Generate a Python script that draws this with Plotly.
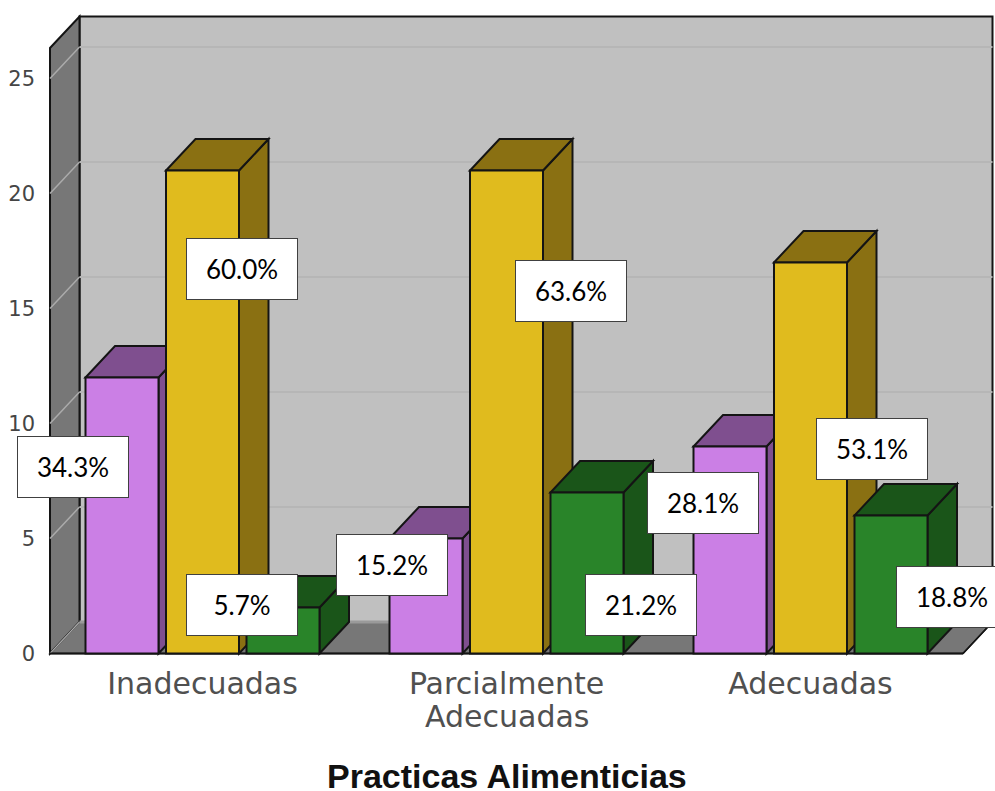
import plotly.graph_objects as go

categories = ["Inadecuadas", "Parcialmente", "Adecuadas"]
second_line = "Adecuadas"
purple_values = [12, 5, 9]
yellow_values = [21, 21, 17]
green_values = [2, 7, 6]
y_ticks = [0, 5, 10, 15, 20, 25]
percent_labels = ["34.3%", "60.0%", "5.7%", "15.2%", "63.6%", "21.2%", "28.1%", "53.1%", "18.8%"]
x_title = "Practicas Alimenticias"

# layout (pixels of the 995x791 page)
W, H = 995, 791
PX_X, PX_Y = 304.0, 23.0
X0_PX, Y0_PX = 202.5, 653.5
L, R, T, B = 44, 995, 12, 660
label_centres = [(73, 467), (242, 269), (242, 605), (392, 565), (571, 291),
                 (641, 605), (703, 503), (872, 449), (952, 597)]


def xd(px):
    return (px - X0_PX) / PX_X


def yd(py):
    return (Y0_PX - py) / PX_Y


DX, DY = 29.5 / PX_X, 31.5 / PX_Y
BAR_W, STEP = 73 / PX_X, 80.5 / PX_X
EDGE = "#141414"
WALL_SIDE, WALL_BACK = "#777777", "#C0C0C0"

series = [
    (purple_values, -STEP, "#CB7FE5", "#7F4F8F"),
    (yellow_values, 0.0, "#E0BB1E", "#8A7012"),
    (green_values, STEP, "#298429", "#1A5519"),
]


def poly(points, fill, lw=2.0, line=EDGE):
    path = "M " + " L ".join(f"{x:.5f},{y:.5f}" for x, y in points) + " Z"
    return dict(type="path", path=path, xref="x", yref="y", layer="below",
                fillcolor=fill, line=dict(color=line, width=lw))


def seg(x1, y1, x2, y2, color, lw=1.5):
    return dict(type="line", x0=x1, y0=y1, x1=x2, y1=y2, xref="x", yref="y",
                layer="below", line=dict(color=color, width=lw))


wl, wr = xd(50), xd(963)
top = yd(48)
shapes = [
    poly([(wl + DX, DY), (wl + DX, top + DY), (wr + DX, top + DY), (wr + DX, DY)], WALL_BACK, 2),
    poly([(wl, 0), (wl, top), (wl + DX, top + DY), (wl + DX, DY)], WALL_SIDE, 2),
]
for t in y_ticks[1:]:
    shapes.append(seg(wl + DX, t + DY, wr + DX, t + DY, "#B6B6B6", 2))
    shapes.append(seg(wl, t, wl + DX, t + DY, "#ABABAB", 1.5))
shapes.append(poly([(wl, 0), (wl + DX, DY), (wr + DX, DY), (wr, 0)], WALL_SIDE, 1.5))
shapes.append(seg(wl + DX, DY, wr + DX, DY, "#9A9A9A", 3))
shapes.append(seg(wl, 0, wl + DX, DY, "#ABABAB", 1.2))
shapes.append(seg(wl, 0, wr, 0, EDGE, 2))
shapes.append(seg(wr, 0, wr + DX, DY, EDGE, 1.5))

fig = go.Figure()
for values, offset, front, dark in series:
    xs = [i + offset for i in range(len(values))]
    fig.add_trace(go.Bar(x=xs, y=values, width=BAR_W, marker=dict(color=front, line=dict(color=EDGE, width=2)),
                         hoverinfo="skip", showlegend=False))
    for x, v in zip(xs, values):
        a, b = x - BAR_W / 2, x + BAR_W / 2
        shapes.append(poly([(b, 0), (b, v), (b + DX, v + DY), (b + DX, DY)], dark))
        shapes.append(poly([(a, v), (a + DX, v + DY), (b + DX, v + DY), (b, v)], dark))

annotations = []
for text, (cx, cy) in zip(percent_labels, label_centres):
    annotations.append(dict(
        x=(cx - L) / (R - L), y=(B - cy) / (B - T), xref="paper", yref="paper",
        xanchor="center", yanchor="middle", text=text, showarrow=False,
        width=110, height=60, align="center", valign="middle", bgcolor="#FFFFFF",
        bordercolor="#404040", borderwidth=1, borderpad=0,
        font=dict(family="Lato", size=26, color="#000000")))
annotations.append(dict(
    x=1, y=(B - 716) / (B - T), xref="x", yref="paper", xanchor="center", yanchor="middle",
    text=second_line, showarrow=False, font=dict(family="DejaVu Sans", size=30, color="#505050")))
annotations.append(dict(
    x=(507 - L) / (R - L), y=(B - 776) / (B - T), xref="paper", yref="paper",
    xanchor="center", yanchor="middle", text=f"<b>{x_title}</b>", showarrow=False,
    font=dict(family="Liberation Sans", size=34, color="#111111")))

fig.update_layout(
    width=W, height=H, margin=dict(l=L, r=W - R, t=T, b=H - B, autoexpand=False),
    paper_bgcolor="#FFFFFF", plot_bgcolor="rgba(0,0,0,0)", barmode="overlay",
    shapes=shapes, annotations=annotations,
    xaxis=dict(range=[xd(L), xd(R)], tickmode="array", tickvals=[0, 1, 2], ticktext=categories,
               showgrid=False, zeroline=False, showline=False, ticks="", ticklabelstandoff=3,
               tickfont=dict(family="DejaVu Sans", size=30, color="#505050")),
    yaxis=dict(range=[yd(B), yd(T)], tickmode="array", tickvals=y_ticks,
               showgrid=False, zeroline=False, showline=False, ticks="", ticklabelstandoff=8,
               tickfont=dict(family="DejaVu Sans", size=21, color="#454545")),
)
fig.write_html("out.html", post_script="document.body.style.margin='0';",
               config={"displayModeBar": False})
